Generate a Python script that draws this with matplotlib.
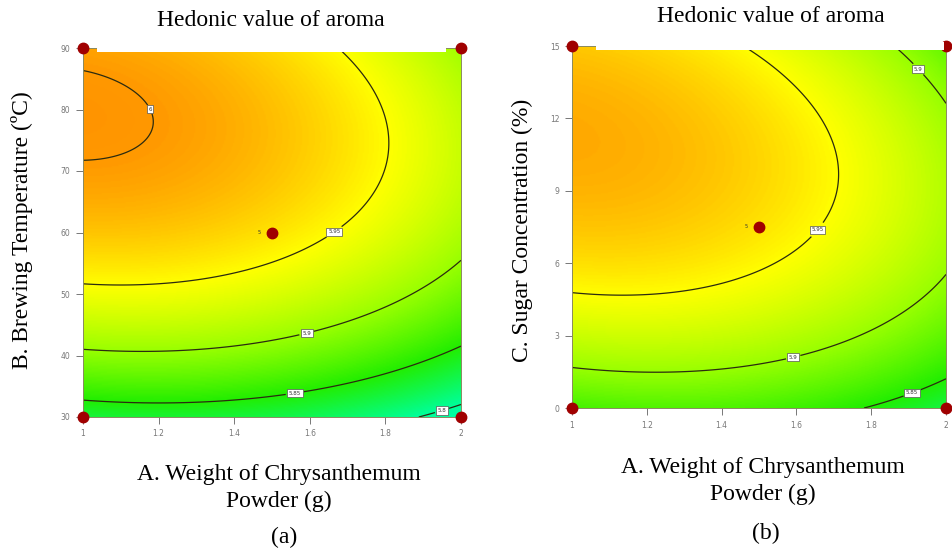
import matplotlib
matplotlib.use("Agg")
import matplotlib.pyplot as plt
import numpy as np
from matplotlib.colors import LinearSegmentedColormap
from matplotlib.patches import Rectangle

# quadratic response surface (coded units, -1..1), coefficients
b0 = 5.963
bA, bB, bC = -0.0338, 0.070, 0.040
bAB, bAC = -0.012, -0.016
bAA, bBB, bCC = -0.019, -0.0646, -0.057

A_range = [1, 2]
B_range = [30, 90]
C_range = [0, 15]

levels_a = [5.8, 5.85, 5.9, 5.95, 6.0]
levels_b = [5.85, 5.9, 5.95]

x_ticks = [1, 1.2, 1.4, 1.6, 1.8, 2]
x_ticklabels = ["1", "1.2", "1.4", "1.6", "1.8", "2"]
yticks_a = [30, 40, 50, 60, 70, 80, 90]
yticks_b = [0, 3, 6, 9, 12, 15]

design_a = [(1, 90), (1, 30), (2, 30), (2, 90), (1.5, 60)]
design_b = [(1, 15), (1, 0), (2, 0), (2, 15), (1.5, 7.5)]

lab_pos_a = [(1.16, 79.5), (1.66, 60.5), (1.59, 44), (1.56, 34), (1.95, 31)]
lab_pos_b = [(1.655, 7.4), (1.59, 2.2), (1.91, 0.6), (1.93, 14.1)]

title = "Hedonic value of aroma"
xlabel = "A. Weight of Chrysanthemum\nPowder (g)"
ylabel_a = "B. Brewing Temperature (ºC)"
ylabel_b = "C. Sugar Concentration (%)"

# colour ramp anchored on response values
vmin, vmax = 5.70, 6.10
anchors = [(5.70, "#00ffff"), (5.80, "#00ff99"), (5.85, "#22ee00"),
           (5.90, "#99ff00"), (5.95, "#ffff00"), (6.00, "#ff9900"),
           (6.10, "#ff3300")]
cmap = LinearSegmentedColormap.from_list(
    "de", [((v - vmin) / (vmax - vmin), c) for v, c in anchors])


def code(v, rng):
    return (v - (rng[0] + rng[1]) / 2) / ((rng[1] - rng[0]) / 2)


def surf_ab(A, B):
    a, b = code(A, A_range), code(B, B_range)
    return b0 + bA * a + bB * b + bAB * a * b + bAA * a**2 + bBB * b**2


def surf_ac(A, C):
    a, c = code(A, A_range), code(C, C_range)
    return b0 + bA * a + bC * c + bAC * a * c + bAA * a**2 + bCC * c**2


serif = "Liberation Serif"
W, H = 952, 551
fig = plt.figure(figsize=(W / 100, H / 100), dpi=100)


def panel(rect, func, yr, levels, yticks, design, lab_pos, ylab, tag,
          title_xy, ylab_x, xlab_xy, tag_xy, band):
    ax = fig.add_axes(rect)
    A = np.linspace(A_range[0], A_range[1], 300)
    Y = np.linspace(yr[0], yr[1], 300)
    AA, YY = np.meshgrid(A, Y)
    Z = func(AA, YY)
    ax.imshow(Z, origin="lower", extent=[A_range[0], A_range[1], yr[0], yr[1]],
              aspect="auto", cmap=cmap, vmin=vmin, vmax=vmax,
              interpolation="bilinear")
    cs = ax.contour(AA, YY, Z, levels=levels, colors="#2b2b10", linewidths=0.9)
    lbls = ax.clabel(cs, fmt=lambda v: f"{v:g}", fontsize=4, inline=True,
                     inline_spacing=3, manual=lab_pos)
    for t in lbls:
        t.set_rotation(0)
        t.set_color("#333333")
        t.set_bbox(dict(boxstyle="square,pad=0.3", fc="white", ec="#555555", lw=0.5))
    xs = [p[0] for p in design]
    ys = [p[1] for p in design]
    ax.plot(xs, ys, "o", color="#a00000", ms=7.5, clip_on=False, zorder=5)
    ax.text(xs[-1] - 0.03, ys[-1], "5", fontsize=3.5, color="#333333",
            ha="right", va="center")
    ax.set_xlim(A_range)
    ax.set_ylim(yr)
    ax.set_xticks(x_ticks)
    ax.set_xticklabels(x_ticklabels)
    ax.set_yticks(yticks)
    ax.tick_params(labelsize=5.5, colors="#777777", length=5, width=0.7, pad=4)
    for s in ax.spines.values():
        s.set_color("#8a8a60")
        s.set_linewidth(0.7)
    fig.add_artist(Rectangle(band[:2], band[2], band[3], transform=fig.transFigure,
                             fc="white", ec="none", zorder=10))
    fig.text(title_xy[0] / W, 1 - title_xy[1] / H, title, family=serif,
             fontsize=17, ha="center", va="center")
    fig.text(ylab_x / W, 1 - 230 / H, ylab, family=serif, fontsize=17,
             rotation=90, ha="center", va="center")
    fig.text(xlab_xy[0] / W, 1 - xlab_xy[1] / H, xlabel, family=serif,
             fontsize=17, ha="center", va="center", linespacing=1.35)
    fig.text(tag_xy[0] / W, 1 - tag_xy[1] / H, tag, family=serif,
             fontsize=17, ha="center", va="center")
    return ax


panel([83 / W, 1 - 417 / H, 378 / W, 369 / H], surf_ab, B_range, levels_a,
      yticks_a, design_a, lab_pos_a, ylabel_a, "(a)",
      (271, 20), 22, (279, 488), (284, 537),
      (97 / W, 1 - 52 / H, 349 / W, 12 / H))
panel([572 / W, 1 - 408 / H, 374 / W, 362 / H], surf_ac, C_range, levels_b,
      yticks_b, design_b, lab_pos_b, ylabel_b, "(b)",
      (771, 16), 522, (763, 481), (766, 533),
      (596 / W, 1 - 50 / H, 348 / W, 8 / H))

fig.savefig("out.png", dpi=100)
